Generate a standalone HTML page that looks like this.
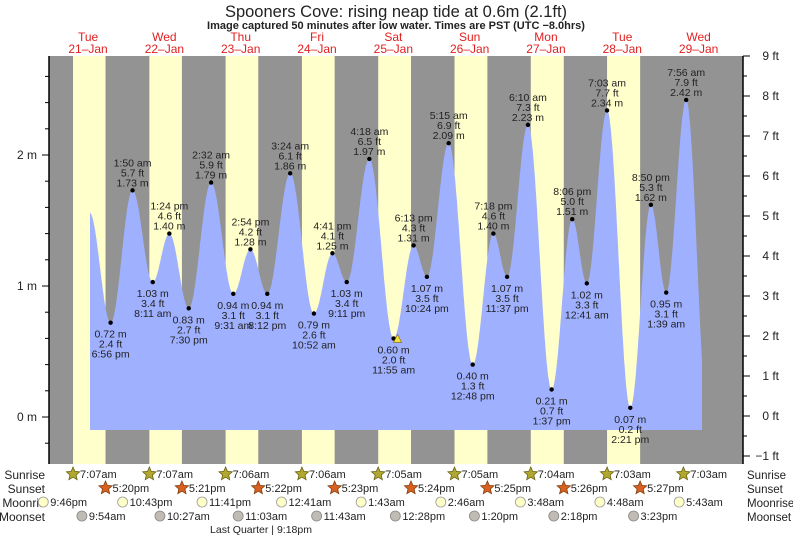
<!DOCTYPE html>
<html><head><meta charset="utf-8">
<style>
body{margin:0;background:#fff;}
svg{display:block;font-family:"Liberation Sans",sans-serif;}
</style></head>
<body>
<svg id="c" width="793" height="538" viewBox="0 0 793 538">
<text x="396" y="17" text-anchor="middle" font-size="16.5" fill="#222">Spooners Cove: rising  neap tide at 0.6m (2.1ft)</text>
<text x="396" y="29" text-anchor="middle" font-size="11" font-weight="bold" fill="#222">Image captured 50 minutes after low water. Times are PST (UTC −8.0hrs)</text>
<g id="bands"></g>
<g id="tide"></g>
<g id="axes"></g>
<g id="labels"></g>
<g id="almanac"></g>
</svg>
<script>
// ---- data ----
const dayNames = ["Tue","Wed","Thu","Fri","Sat","Sun","Mon","Tue","Wed"];
const dayDates = ["21\u2013Jan","22\u2013Jan","23\u2013Jan","24\u2013Jan","25\u2013Jan","26\u2013Jan","27\u2013Jan","28\u2013Jan","29\u2013Jan"];
// extremes: day index (0 = 21 Jan), time label, height (m), type
const tideDay = [0,1,1,1,1,2,2,2,2,3,3,3,3,4,4,4,4,5,5,5,5,6,6,6,7,7,7,7,8,8];
const tideTime = ["6:56 pm","1:50 am","8:11 am","1:24 pm","7:30 pm","2:32 am","9:31 am","2:54 pm","8:12 pm","3:24 am","10:52 am","4:41 pm","9:11 pm","4:18 am","11:55 am","6:13 pm","10:24 pm","5:15 am","12:48 pm","7:18 pm","11:37 pm","6:10 am","1:37 pm","8:06 pm","12:41 am","7:03 am","2:21 pm","8:50 pm","1:39 am","7:56 am"];
const tideM = [0.72,1.73,1.03,1.40,0.83,1.79,0.94,1.28,0.94,1.86,0.79,1.25,1.03,1.97,0.60,1.31,1.07,2.09,0.40,1.40,1.07,2.23,0.21,1.51,1.02,2.34,0.07,1.62,0.95,2.42];
const tideType = ["L","H","L","H","L","H","L","H","L","H","L","H","L","H","L","H","L","H","L","H","L","H","L","H","L","H","L","H","L","H"];
const startM = 1.56, endNextM = 0.05;
const sunrise = ["7:07am","7:07am","7:06am","7:06am","7:05am","7:05am","7:04am","7:03am","7:03am"];
const sunset = ["5:20pm","5:21pm","5:22pm","5:23pm","5:24pm","5:25pm","5:26pm","5:27pm"];
const moonriseDay = [-1,0,1,3,4,5,6,7,8];
const moonrise = ["9:46pm","10:43pm","11:41pm","12:41am","1:43am","2:46am","3:48am","4:48am","5:43am"];
const moonsetDay = [0,1,2,3,4,5,6,7];
const moonset = ["9:54am","10:27am","11:03am","11:43am","12:28pm","1:20pm","2:18pm","3:23pm"];

// ---- scales ----
const X0=50.4, PXH=3.18, PL=49, PR=743, PT=56, PB=464, FILLB=430;
function parseT(s){const m=s.match(/(\d+):(\d+)\s*(am|pm)/);let h=+m[1]%12;if(m[3]=="pm")h+=12;return h+ +m[2]/60;}
function xT(h){return X0+h*PXH;}
function yM(m){return 417-m*131;}
function yFt(f){return 416-f*40;}
const NS="http://www.w3.org/2000/svg";
function mk(tag,attrs,parent){const e=document.createElementNS(NS,tag);for(const k in attrs)e.setAttribute(k,attrs[k]);parent.appendChild(e);return e;}
function txt(parent,x,y,s,opt){const e=mk("text",Object.assign({x:x,y:y,"font-size":11,fill:"#222"},opt||{}),parent);e.textContent=s;return e;}

// ---- bands ----
const bands=document.getElementById("bands");
const bg=mk("rect",{x:PL,y:PT,width:PR-PL,height:PB-PT,fill:"#939393"},bands);


for(let d=0;d<sunset.length;d++){
  const a=xT(d*24+parseT(sunrise[d])), b=xT(d*24+parseT(sunset[d]));
  const r=mk("rect",{x:a,y:PT,width:b-a,height:PB-PT,fill:"#ffffcc"},bands);
  
  
}
for(let d=0;d<dayNames.length;d++){
  const cx=xT(d*24+12)-0.5;
  const t1=txt(bands,cx,41,dayNames[d],{"text-anchor":"middle","font-size":12,fill:"#e02020"});
  
  
  const t2=txt(bands,cx,53,dayDates[d],{"text-anchor":"middle","font-size":12,fill:"#e02020"});
  
  
}

// ---- tide curve ----
const ev=[];
ev.push({h:12.3,m:startM});
for(let i=0;i<tideM.length;i++)ev.push({h:tideDay[i]*24+parseT(tideTime[i]),m:tideM[i]});
ev.push({h:8*24+14.7,m:endNextM});
const hStart=(90-X0)/PXH, hEnd=(702-X0)/PXH;
function val(h){for(let i=0;i<ev.length-1;i++){if(h>=ev[i].h&&h<=ev[i+1].h){const f=(h-ev[i].h)/(ev[i+1].h-ev[i].h);return ev[i+1].m+(ev[i].m-ev[i+1].m)*(1+Math.cos(Math.PI*f))/2;}}return ev[ev.length-1].m;}
let d="M"+xT(hStart)+","+FILLB;
for(let h=hStart;h<=hEnd;h+=0.1)d+=" L"+xT(h).toFixed(1)+","+yM(val(h)).toFixed(1);
d+=" L"+xT(hEnd).toFixed(1)+","+yM(val(hEnd)).toFixed(1)+" L"+xT(hEnd).toFixed(1)+","+FILLB+" Z";
const tide=document.getElementById("tide");
const area=mk("path",{d:d,fill:"#9fb0ff"},tide);



// ---- extreme labels ----
const labels=document.getElementById("labels");
for(let i=0;i<tideM.length;i++){
  const x=xT(tideDay[i]*24+parseT(tideTime[i])), y=yM(tideM[i]);
  const dot=mk("circle",{cx:x,cy:y,r:2.2,fill:"#000"},labels);
  
  
  const ft=(tideM[i]*3.2808).toFixed(1)+" ft", ms=tideM[i].toFixed(2)+" m";
  const g=mk("g",{},labels);
  
  
  if(tideType[i]=="H"){
    txt(g,x,y-24,tideTime[i],{"text-anchor":"middle","font-size":10.5});
    txt(g,x,y-14,ft,{"text-anchor":"middle","font-size":10.5});
    txt(g,x,y-4,ms,{"text-anchor":"middle","font-size":10.5});
  }else{
    txt(g,x,y+15,ms,{"text-anchor":"middle","font-size":10.5});
    txt(g,x,y+25,ft,{"text-anchor":"middle","font-size":10.5});
    txt(g,x,y+35,tideTime[i],{"text-anchor":"middle","font-size":10.5});
  }
}
{const x=xT(4*24+parseT("11:55 am"))+4, y=yM(0.60);
const tri=mk("polygon",{points:(x-4)+","+(y+4)+" "+x+","+(y-4)+" "+(x+4)+","+(y+4),fill:"#f0e040",stroke:"#806000","stroke-width":0.6},labels);

}

// ---- axes ----
const axes=document.getElementById("axes");
const la=mk("line",{x1:PL,y1:PT,x2:PL,y2:PB,stroke:"#000","stroke-width":1.5},axes);


const ra=mk("line",{x1:PR,y1:PT,x2:PR,y2:PB,stroke:"#000","stroke-width":1.5},axes);


for(let k=-1;k<=14;k++){const m=k*0.2, y=yM(m); if(y<PT||y>PB)continue;
  const major=k%5==0;
  mk("line",{x1:major?PL-7:PL-4,y1:y,x2:PL,y2:y,stroke:"#000"},axes);
  if(major){const t=txt(axes,PL-12,y+4,Math.round(m)+" m",{"text-anchor":"end","font-size":12});
    
    }
}
for(let k=-2;k<=18;k++){const f=k*0.5, y=yFt(f); if(y<PT-1||y>PB)continue;
  const major=k%2==0;
  mk("line",{x1:PR,y1:y,x2:major?PR+7:PR+4,y2:y,stroke:"#000"},axes);
  if(major){const t=txt(axes,PR+36,y+4,(f<0?"\u22121":f)+" ft",{"text-anchor":"end","font-size":12});
    
    }
}

// ---- almanac ----
const al=document.getElementById("almanac");
const rowY=[478,492,506,520];
const rowNames=["Sunrise","Sunset","Moonrise","Moonset"];
const leftNames=["Sunrise","Sunset","Moonris","Moonset"];
for(let r=0;r<4;r++){
  const a=txt(al,45,rowY[r]+1,leftNames[r],{"text-anchor":"end","font-size":12});
  
  
  const b=txt(al,747,rowY[r]+1,rowNames[r],{"font-size":11.5});
  
  
}
function star(cx,cy,fill,stroke){let p=[];for(let i=0;i<10;i++){const r=i%2?3.2:7,a=-Math.PI/2+i*Math.PI/5;p.push((cx+r*Math.cos(a)).toFixed(1)+","+(cy+r*Math.sin(a)).toFixed(1));}
  return mk("polygon",{points:p.join(" "),fill:fill,stroke:stroke,"stroke-width":0.8},al);}
for(let d=0;d<sunrise.length;d++){const x=xT(d*24+parseT(sunrise[d]));
  const s=star(x,rowY[0]-4,"#b0a830","#6a6010");
  
  
  const t=txt(al,x+7,rowY[0],sunrise[d],{"font-size":11});
  
  }
for(let d=0;d<sunset.length;d++){const x=xT(d*24+parseT(sunset[d]));
  const s=star(x,rowY[1]-4,"#d86020","#804010");
  
  
  const t=txt(al,x+7,rowY[1],sunset[d],{"font-size":11});
  
  }
for(let i=0;i<moonrise.length;i++){const x=xT(moonriseDay[i]*24+parseT(moonrise[i]));
  const c=mk("circle",{cx:x,cy:rowY[2]-4,r:5,fill:"#ffffc8",stroke:"#999","stroke-width":0.8},al);
  
  
  const t=txt(al,x+7,rowY[2],moonrise[i],{"font-size":11});
  
  }
for(let i=0;i<moonset.length;i++){const x=xT(moonsetDay[i]*24+parseT(moonset[i]));
  const c=mk("circle",{cx:x,cy:rowY[3]-4,r:5,fill:"#c0bcb4",stroke:"#888","stroke-width":0.8},al);
  
  
  const t=txt(al,x+7,rowY[3],moonset[i],{"font-size":11});
  
  }
const lq=txt(al,261,533,"Last Quarter | 9:18pm",{"text-anchor":"middle","font-size":10.5});


</script>
</body></html>
